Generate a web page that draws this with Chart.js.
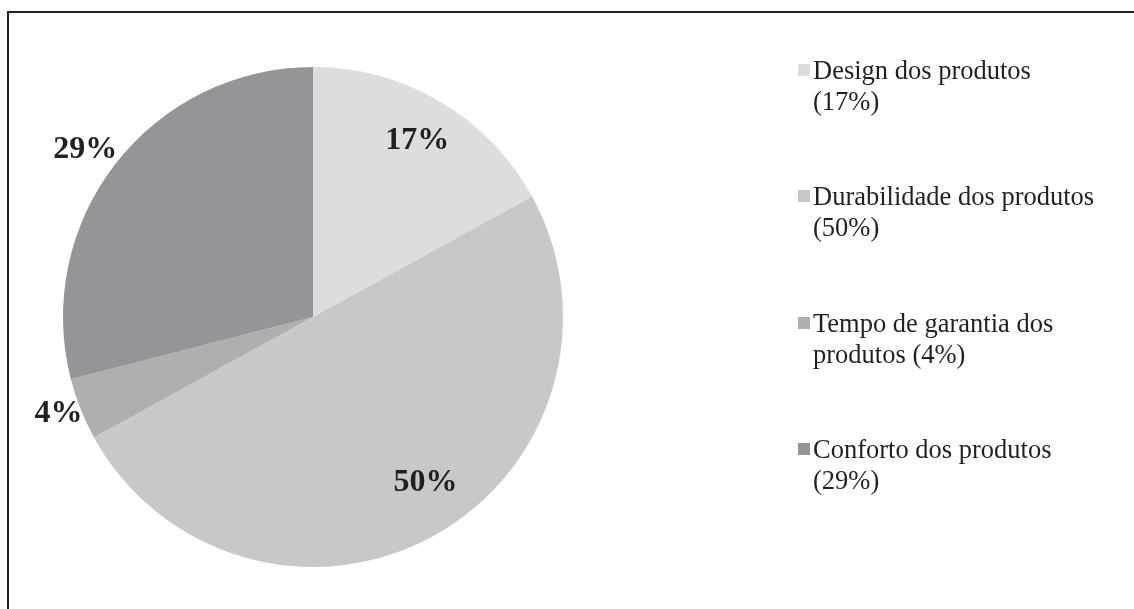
<!DOCTYPE html>
<html>
<head>
<meta charset="utf-8">
<script src="https://cdn.jsdelivr.net/npm/chart.js@4.4.0/dist/chart.umd.min.js"></script>
<style>
  html, body { margin: 0; padding: 0; background: #fff; }
  #wrap { position: relative; width: 1134px; height: 609px; overflow: hidden; }
  #frame { position: absolute; left: 7px; top: 11px; width: 1200px; height: 700px;
           border-left: 2px solid #231f20; border-top: 2px solid #231f20; }
  #c { position: absolute; left: 0; top: 0; }
  #legend { position: absolute; left: 798px; top: 0; font-family: "Liberation Serif", "Times New Roman", serif;
            font-size: 26.5px; color: #231f20; }
  .item { position: absolute; left: 0; white-space: nowrap; line-height: 31px; }
  .sw { position: absolute; left: 0; top: 9px; width: 12px; height: 12px; }
  .txt { position: absolute; left: 15px; top: 0; }
</style>
</head>
<body>
<div id="wrap">
  <div id="frame"></div>
  <canvas id="c" width="1134" height="609"></canvas>
  <div id="legend"></div>
</div>
<script>
const categories = ["Design dos produtos", "Durabilidade dos produtos", "Tempo de garantia dos produtos", "Conforto dos produtos"];
const values = [17, 50, 4, 29];
const legendLines = [
  ["Design dos produtos", "(17%)"],
  ["Durabilidade dos produtos", "(50%)"],
  ["Tempo de garantia dos", "produtos (4%)"],
  ["Conforto dos produtos", "(29%)"]
];
const colors = ["#dcdddf", "#c7c8ca", "#adafb1", "#939598"];

// label placement relative to each slice (radius factor, angle tweak in degrees)
const labelRadius = [0.82, 0.80, 1.09, 1.13];
const labelAngleShift = [0, -5.4, 0.7, -1.5];

const pctLabels = {
  id: 'pctLabels',
  afterDatasetsDraw(chart) {
    const ctx = chart.ctx;
    const meta = chart.getDatasetMeta(0);
    ctx.save();
    ctx.font = 'bold 32px "Liberation Serif", "Times New Roman", serif';
    ctx.fillStyle = '#231f20';
    ctx.textAlign = 'center';
    ctx.textBaseline = 'middle';
    meta.data.forEach((arc, i) => {
      const p = arc.getProps(['x', 'y', 'startAngle', 'endAngle', 'outerRadius'], true);
      const mid = (p.startAngle + p.endAngle) / 2 + labelAngleShift[i] * Math.PI / 180;
      const r = p.outerRadius * labelRadius[i];
      ctx.fillText(values[i] + '%', p.x + Math.cos(mid) * r, p.y + Math.sin(mid) * r);
    });
    ctx.restore();
  }
};

new Chart(document.getElementById('c'), {
  type: 'pie',
  data: {
    labels: categories,
    datasets: [{ data: values, backgroundColor: colors, borderWidth: 0 }]
  },
  options: {
    responsive: false,
    animation: false,
    layout: { padding: { left: 63, top: 67, right: 571, bottom: 42 } },
    plugins: { legend: { display: false }, tooltip: { enabled: false } }
  },
  plugins: [pctLabels]
});

const legend = document.getElementById('legend');
const tops = [55, 181, 308, 434];
legendLines.forEach((lines, i) => {
  const item = document.createElement('div');
  item.className = 'item';
  item.style.top = tops[i] + 'px';
  const sw = document.createElement('div');
  sw.className = 'sw';
  sw.style.background = colors[i];
  const txt = document.createElement('div');
  txt.className = 'txt';
  txt.innerHTML = lines.join('<br>');
  item.appendChild(sw);
  item.appendChild(txt);
  legend.appendChild(item);
});
</script>
</body>
</html>
